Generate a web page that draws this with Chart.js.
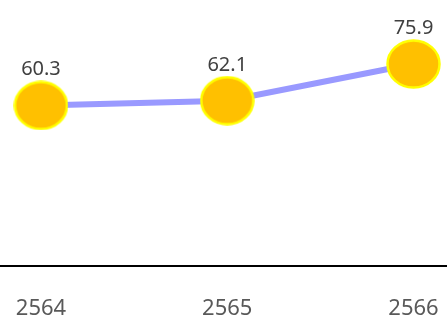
<!DOCTYPE html>
<html>
<head>
<meta charset="utf-8">
<script src="https://cdn.jsdelivr.net/npm/chart.js@4/dist/chart.umd.min.js"></script>
<style>
  html, body { margin: 0; padding: 0; background: #fff; }
  #wrap { width: 447px; height: 316px; }
</style>
</head>
<body>
<div id="wrap"><canvas id="chart"></canvas></div>
<script>
const years = ["2564", "2565", "2566"];
const values = [60.3, 62.1, 75.9];

// slightly wide dot, like the original
function makeDot(w, h){
    const c = document.createElement("canvas");
    c.width = w; c.height = h;
    const g = c.getContext("2d");
    g.beginPath();
    g.ellipse(w / 2, h / 2, w / 2 - 1.5, h / 2 - 1.5, 0, 0, Math.PI * 2);
    g.fillStyle = "#FFC000";
    g.fill();
    g.lineWidth = 2.5;
    g.strokeStyle = "#FFFF00";
    g.stroke();
    return c;
}

// value labels above each point
const valueLabels = {
    id: "valueLabels",
    afterDatasetsDraw(chart){
        const ctx = chart.ctx;
        const meta = chart.getDatasetMeta(0);
        ctx.save();
        ctx.font = "20px 'Noto Sans'";
        ctx.fillStyle = "#404040";
        ctx.textAlign = "center";
        ctx.textBaseline = "alphabetic";
        meta.data.forEach((pt, i) => {
            ctx.fillText(values[i].toFixed(1), pt.x, pt.y - 30);
        });
        ctx.restore();
    }
};

new Chart(document.getElementById("chart"), {
    type: "line",
    data: {
        datasets: [{
            data: values.map((v, i) => ({ x: i, y: v })),
            borderColor: "#9999FF",
            borderWidth: 6,
            pointStyle: makeDot(55, 50),
            pointRadius: 26,
            pointHoverRadius: 26,
            tension: 0
        }]
    },
    options: {
        responsive: true,
        maintainAspectRatio: false,
        animation: false,
        // tick padding counts twice in the axis height, so pull the bottom in
        layout: { autoPadding: false, padding: { top: 0, left: 0, right: 0, bottom: -36 } },
        plugins: {
            legend: { display: false },
            tooltip: { enabled: false }
        },
        scales: {
            x: {
                type: "linear",
                min: -0.22,
                max: 2.18,
                afterBuildTicks: (scale) => {
                    scale.ticks = years.map((_, i) => ({ value: i }));
                },
                afterFit: (scale) => {
                    scale.paddingLeft = 0;
                    scale.paddingRight = 0;
                },
                grid: { display: false, drawTicks: false },
                border: { display: true, color: "#000", width: 2 },
                ticks: {
                    color: "#595959",
                    padding: 30,
                    maxRotation: 0,
                    autoSkip: false,
                    font: { family: "'Noto Sans'", size: 22 },
                    callback: (v) => years[v]
                }
            },
            y: {
                display: false,
                min: 0,
                max: 100
            }
        }
    },
    plugins: [valueLabels]
});
</script>
</body>
</html>
